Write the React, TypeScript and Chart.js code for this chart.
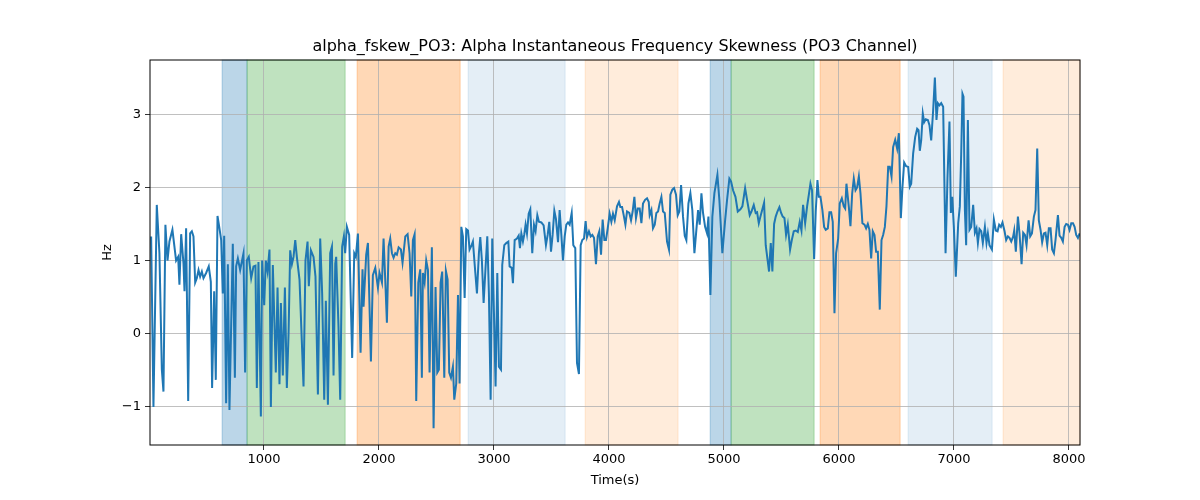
import React, { useEffect, useRef } from "react";
import { Chart, registerables } from "chart.js";
Chart.register(...registerables);

const times: number[] = [19,39,68,91,112,126,143,161,178,204,236,254,265,280,300,309,323,341,358,373,387,402,416,431,445,460,474,497,520,538,549,567,581,596,613,628,642,654,671,686,700,729,747,758,773,793,822,836,851,868,889,909,926,938,952,973,984,1002,1016,1031,1048,1060,1077,1103,1118,1135,1147,1164,1182,1199,1214,1228,1243,1257,1272,1286,1309,1344,1361,1379,1390,1408,1431,1448,1469,1489,1506,1524,1538,1556,1576,1591,1605,1620,1628,1648,1663,1680,1695,1706,1721,1741,1767,1785,1799,1817,1840,1857,1866,1889,1904,1930,1947,1968,1991,2005,2026,2040,2055,2069,2084,2098,2113,2127,2142,2156,2171,2191,2205,2229,2249,2266,2281,2295,2310,2324,2342,2359,2373,2382,2397,2411,2426,2440,2460,2475,2492,2507,2521,2536,2550,2568,2582,2597,2611,2626,2643,2655,2672,2687,2701,2716,2730,2745,2759,2774,2788,2806,2817,2838,2852,2869,2881,2895,2910,2925,2942,2956,2971,2985,3000,3014,3029,3043,3061,3072,3090,3107,3125,3136,3154,3165,3180,3200,3215,3226,3238,3252,3264,3275,3287,3302,3316,3333,3348,3362,3377,3391,3412,3432,3452,3467,3481,3496,3510,3525,3539,3557,3571,3586,3600,3615,3629,3644,3658,3676,3690,3707,3722,3739,3754,3768,3783,3797,3809,3826,3841,3855,3870,3887,3902,3916,3931,3945,3960,3974,3989,4006,4021,4035,4050,4070,4087,4099,4114,4128,4143,4157,4177,4192,4206,4221,4235,4250,4267,4282,4296,4314,4331,4346,4354,4369,4383,4398,4412,4427,4441,4456,4470,4485,4505,4522,4534,4551,4566,4583,4598,4612,4627,4644,4659,4673,4691,4708,4725,4743,4760,4775,4789,4804,4818,4836,4853,4865,4882,4899,4917,4943,4960,4986,5010,5027,5047,5062,5079,5100,5120,5143,5160,5184,5201,5224,5239,5259,5276,5288,5303,5317,5334,5349,5363,5381,5392,5407,5421,5436,5450,5465,5482,5497,5511,5526,5540,5555,5575,5590,5607,5624,5642,5659,5674,5688,5706,5723,5740,5752,5766,5784,5798,5813,5825,5839,5856,5871,5885,5903,5917,5932,5946,5961,5975,5993,6007,6025,6042,6054,6065,6086,6100,6115,6129,6144,6158,6173,6187,6204,6222,6236,6251,6265,6280,6294,6309,6323,6338,6355,6370,6384,6399,6413,6428,6442,6457,6471,6489,6506,6521,6538,6552,6567,6584,6602,6616,6628,6645,6663,6680,6692,6703,6715,6729,6741,6755,6773,6787,6802,6819,6834,6848,6860,6874,6889,6906,6927,6944,6961,6973,6985,6999,7016,7037,7051,7063,7074,7083,7095,7106,7121,7135,7150,7167,7182,7196,7208,7222,7237,7251,7269,7283,7295,7309,7330,7347,7364,7379,7393,7408,7422,7440,7454,7469,7483,7498,7515,7524,7538,7556,7570,7588,7602,7617,7631,7649,7663,7678,7695,7709,7724,7738,7753,7767,7782,7796,7811,7825,7840,7854,7869,7883,7904,7918,7933,7947,7962,7976,7991,8005,8020,8035,8049,8063,8078,8093];

const skew: number[] = [1.33,-1.0,1.76,1.1,-0.49,-0.79,1.49,1.0,1.26,1.42,1.0,1.05,0.67,1.36,0.96,0.58,1.44,-0.92,1.37,1.4,1.33,0.7,0.76,0.87,0.78,0.85,0.76,0.83,0.92,0.71,-0.74,0.58,-0.63,1.61,1.44,1.28,0.55,1.34,-0.95,0.95,-1.04,1.23,-0.6,0.92,1.03,0.87,1.1,-0.53,1.0,1.05,0.76,0.92,0.93,-0.74,0.98,-1.13,1.0,0.39,1.0,0.85,1.15,-1.0,0.94,-0.53,0.63,-0.69,0.42,-0.57,0.63,-0.74,0.01,1.14,0.95,1.05,1.28,1.05,0.74,-0.72,1.0,1.26,0.65,1.14,1.05,0.78,-0.83,1.3,0.55,-0.9,0.45,-0.97,1.1,1.19,-0.57,0.96,1.05,0.1,-0.9,1.19,1.33,1.1,1.46,1.35,-0.33,1.1,1.05,1.37,-0.26,0.88,0.37,1.08,1.24,-0.38,0.8,0.9,0.63,0.83,0.7,1.3,0.72,0.15,1.19,1.3,1.1,1.04,1.1,1.08,1.18,1.15,0.97,1.33,1.36,1.1,0.51,1.28,1.36,-0.92,0.7,0.88,-0.6,0.83,0.7,1.0,0.87,-0.53,1.18,-1.29,0.64,-0.53,-0.49,0.7,0.85,-0.6,0.86,0.74,-0.53,-0.6,-0.45,-0.9,-0.68,0.53,-0.68,1.46,1.33,0.49,1.43,1.41,1.15,1.21,1.26,0.83,0.55,1.1,1.32,1.0,0.42,0.85,1.33,0.55,-0.9,1.3,0.28,-0.72,0.83,-0.45,-0.49,0.94,1.21,1.24,1.26,0.92,0.9,0.69,1.28,1.3,1.34,1.17,1.37,1.26,1.36,1.49,1.37,1.64,1.7,1.1,1.49,1.4,1.62,1.53,1.52,1.48,1.21,1.35,1.53,1.12,1.35,1.68,1.57,1.25,1.69,1.35,1.0,1.33,1.49,1.52,1.49,1.65,1.21,1.17,-0.4,-0.55,1.21,1.28,1.3,1.54,1.32,1.4,1.33,1.35,1.31,0.95,1.33,1.4,1.08,1.56,1.28,1.28,1.44,1.64,1.53,1.64,1.55,1.74,1.8,1.73,1.73,1.62,1.49,1.67,1.65,1.55,1.67,1.87,1.58,1.71,1.71,1.51,1.78,1.83,1.85,1.8,1.62,1.69,1.44,1.49,1.65,1.67,1.78,1.87,1.67,1.65,1.26,1.15,1.9,1.97,1.99,1.9,1.62,1.67,2.03,1.6,1.34,1.28,1.78,1.92,1.69,1.1,1.42,1.69,1.49,1.92,1.65,1.46,1.37,1.6,0.53,1.6,1.92,2.17,1.83,1.1,1.55,1.83,2.12,2.08,1.96,1.87,1.67,1.7,1.74,1.99,1.83,1.62,1.67,1.76,1.65,1.66,1.51,1.6,1.7,1.79,1.21,0.99,0.85,1.24,0.85,1.5,1.6,1.67,1.73,1.65,1.6,1.58,1.35,1.49,1.15,1.28,1.4,1.41,1.39,1.53,1.41,1.76,1.51,1.74,1.92,2.05,1.96,1.02,1.67,2.1,1.87,1.87,1.69,1.46,1.42,1.44,1.66,1.66,1.53,0.28,1.1,1.3,1.78,1.85,1.74,1.71,2.05,1.73,1.47,1.92,2.12,1.96,2.0,2.15,1.92,1.51,1.49,1.44,1.5,1.42,1.03,1.4,1.35,1.12,1.12,0.33,1.28,1.35,1.46,1.74,2.28,2.28,2.15,2.55,2.65,2.53,2.74,1.58,2.0,2.34,2.29,2.28,2.01,2.05,2.46,2.69,2.8,2.78,2.5,2.64,3.01,2.89,2.93,2.92,2.85,2.64,3.05,3.5,2.92,3.15,3.12,3.15,3.1,1.1,2.15,2.9,1.65,1.87,1.46,0.78,1.51,1.74,2.46,3.28,3.24,1.69,1.21,2.92,1.42,1.46,1.76,1.38,1.44,1.24,1.43,1.4,1.24,1.46,1.24,1.37,1.21,1.15,1.56,1.41,1.4,1.49,1.46,1.52,1.4,1.28,1.33,1.31,1.26,1.33,1.41,1.12,1.6,1.37,0.95,1.38,1.35,1.21,1.55,1.33,1.37,1.6,1.69,2.53,1.55,1.42,1.25,1.37,1.38,1.21,1.44,1.44,1.15,1.1,1.28,1.62,1.34,1.31,1.26,1.46,1.5,1.49,1.42,1.51,1.51,1.46,1.35,1.31,1.37];

const spanStarts: number[] = [636, 853, 1810, 2775, 3793, 4880, 5062, 5836, 6601, 7427];
const spanEnds: number[] = [853, 1706, 2706, 3619, 4601, 5062, 5784, 6532, 7332, 8100];
const spanColors: string[] = [
  "rgba(31,119,180,0.3)", "rgba(44,160,44,0.3)", "rgba(255,127,14,0.3)", "rgba(31,119,180,0.12)", "rgba(255,127,14,0.15)",
  "rgba(31,119,180,0.3)", "rgba(44,160,44,0.3)", "rgba(255,127,14,0.3)", "rgba(31,119,180,0.12)", "rgba(255,127,14,0.15)",
];
const xTicks: number[] = [1000, 2000, 3000, 4000, 5000, 6000, 7000, 8000];
const yTicks: number[] = [-1, 0, 1, 2, 3];
const titleText = "alpha_fskew_PO3: Alpha Instantaneous Frequency Skewness (PO3 Channel)";

export default function App() {
  const ref = useRef<HTMLCanvasElement>(null);
  useEffect(() => {
    document.body.style.margin = "0";
    const font = "'DejaVu Sans', sans-serif";
    const plugin = {
      id: "extras",
      beforeDraw(chart: any) {
        const { ctx, chartArea: a, scales } = chart;
        ctx.save();
        spanStarts.forEach((s, i) => {
          const x1 = Math.max(scales.x.getPixelForValue(s), a.left);
          const x2 = Math.min(scales.x.getPixelForValue(spanEnds[i]), a.right);
          ctx.fillStyle = spanColors[i];
          ctx.fillRect(x1, a.top, x2 - x1, a.bottom - a.top);
          ctx.strokeStyle = spanColors[i];
          ctx.lineWidth = 1;
          ctx.strokeRect(x1, a.top, x2 - x1, a.bottom - a.top);
        });
        ctx.restore();
      },
      afterDraw(chart: any) {
        const { ctx, chartArea: a } = chart;
        ctx.save();
        ctx.strokeStyle = "#000";
        ctx.lineWidth = 1;
        ctx.strokeRect(a.left, a.top, a.right - a.left, a.bottom - a.top);
        ctx.fillStyle = "#000";
        ctx.font = `16px ${font}`;
        ctx.textAlign = "center";
        ctx.textBaseline = "bottom";
        ctx.fillText(titleText, (a.left + a.right) / 2, a.top - 5);
        ctx.font = `13px ${font}`;
        ctx.textBaseline = "middle";
        ctx.fillText("Time(s)", (a.left + a.right) / 2, 481);
        ctx.translate(108, (a.top + a.bottom) / 2);
        ctx.rotate(-Math.PI / 2);
        ctx.fillText("Hz", 0, 0);
        ctx.restore();
      },
    };
    const chart = new Chart(ref.current!, {
      type: "line",
      data: {
        datasets: [{
          data: times.map((t, i) => ({ x: t, y: skew[i] })),
          borderColor: "#1f77b4",
          borderWidth: 2,
          pointRadius: 0,
          tension: 0,
        }],
      },
      options: {
        animation: false,
        responsive: false,
        layout: { padding: { top: 60, right: 120, left: 0, bottom: 0 } },
        plugins: { legend: { display: false }, tooltip: { enabled: false } },
        scales: {
          x: {
            type: "linear",
            min: 9,
            max: 8096,
            afterBuildTicks: (s: any) => { s.ticks = xTicks.map((v) => ({ value: v })); },
            afterFit: (s: any) => { s.height = 55; },
            grid: { color: "#b0b0b0", lineWidth: 0.8, tickLength: 5, tickColor: "#000" },
            border: { display: false },
            ticks: { color: "#000", font: { family: font, size: 13 }, maxRotation: 0, padding: 2, callback: (v: any) => String(v) },
          },
          y: {
            min: -1.52,
            max: 3.74,
            afterBuildTicks: (s: any) => { s.ticks = yTicks.map((v) => ({ value: v })); },
            afterFit: (s: any) => { s.width = 150; },
            grid: { color: "#b0b0b0", lineWidth: 0.8, tickLength: 5, tickColor: "#000" },
            border: { display: false },
            ticks: { color: "#000", font: { family: font, size: 13 }, padding: 4, callback: (v: any) => String(v).replace("-", "\u2212") },
          },
        },
      },
      plugins: [plugin],
    });
    return () => chart.destroy();
  }, []);
  return <canvas ref={ref} width={1200} height={500} style={{ display: "block" }} />;
}
